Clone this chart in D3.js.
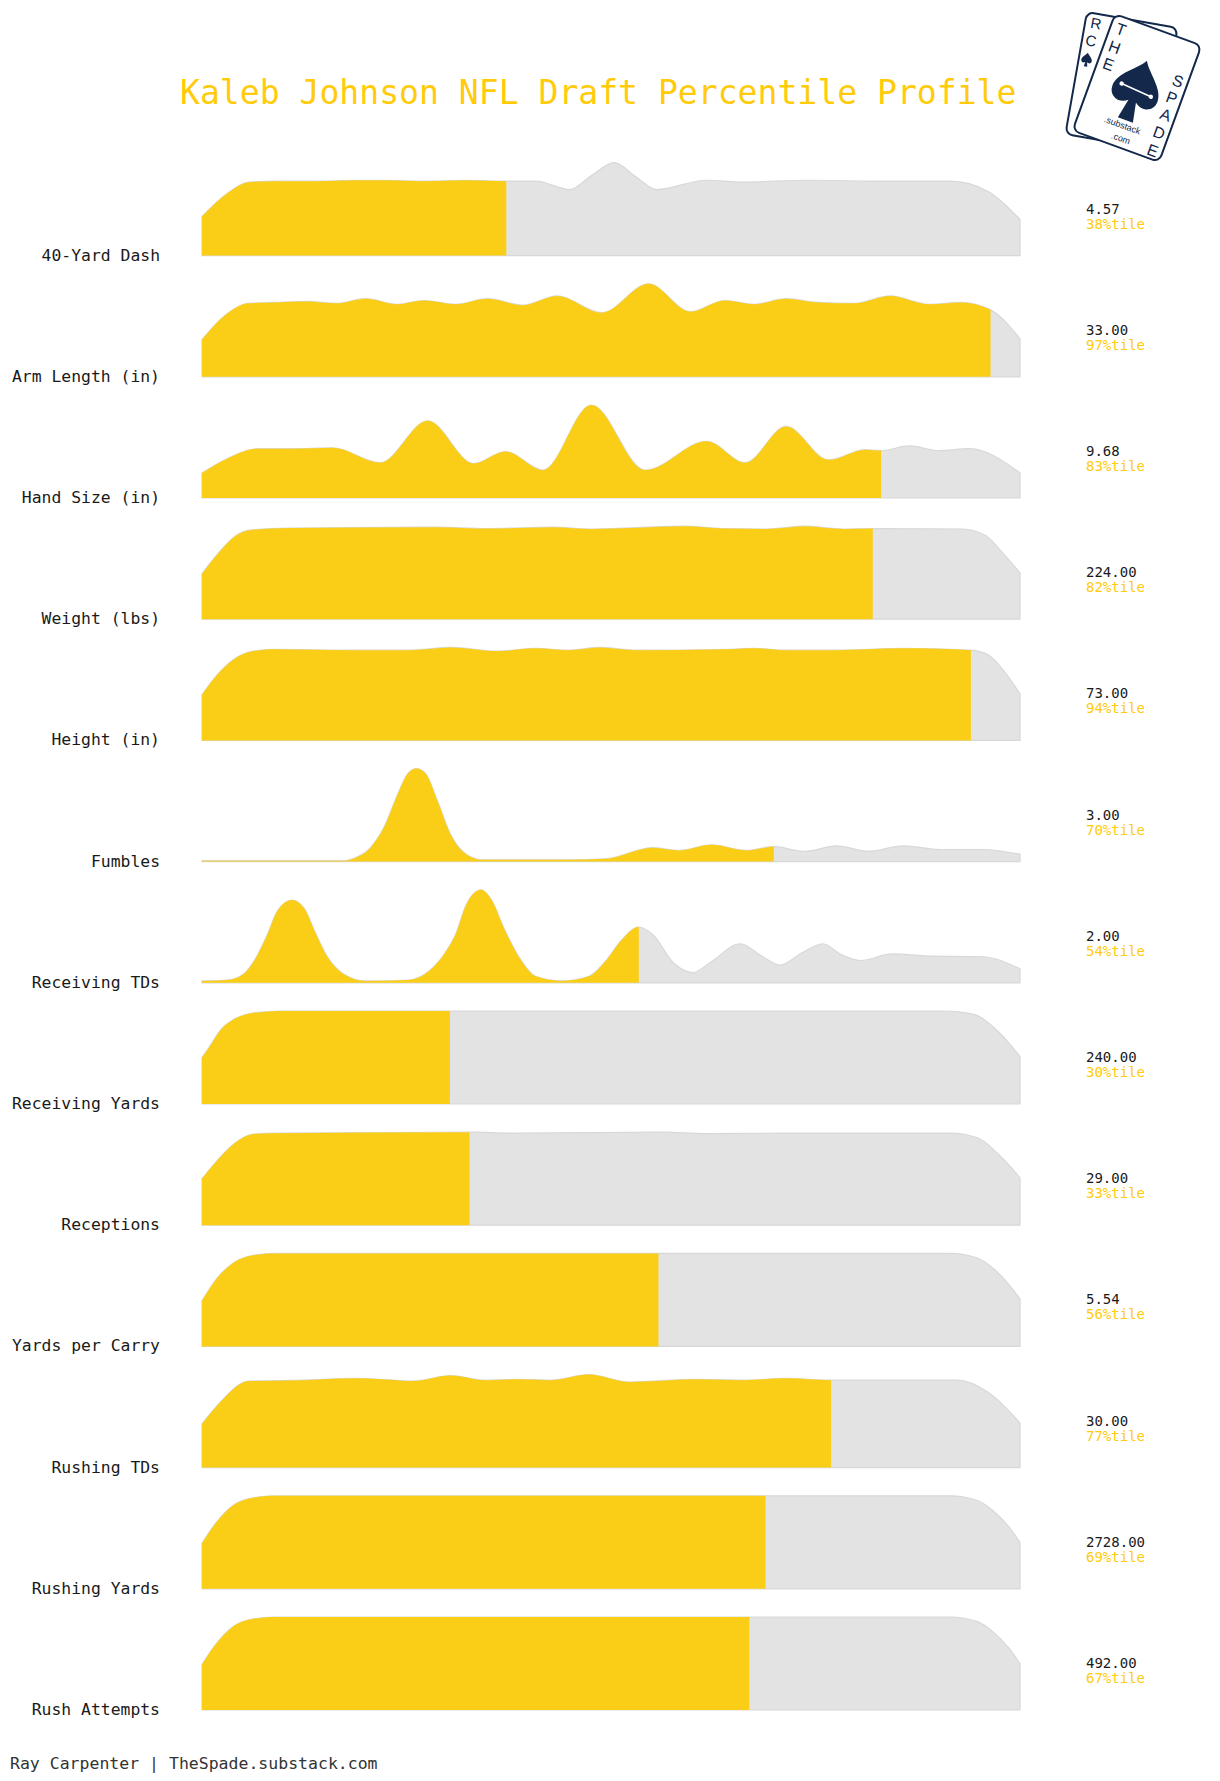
<!DOCTYPE html>
<html>
<head>
<meta charset="utf-8">
<script src="https://cdn.jsdelivr.net/npm/d3@7"></script>
<style>
  html, body { margin: 0; padding: 0; background: #ffffff; }
  svg { display: block; }
</style>
</head>
<body>
<svg id="chart" width="1220" height="1781"></svg>
<script>
// ---------------- DATA ----------------
const titleText = "Kaleb Johnson NFL Draft Percentile Profile";
const footerText = "Ray Carpenter | TheSpade.substack.com";

const metrics = [
  "40-Yard Dash", "Arm Length (in)", "Hand Size (in)", "Weight (lbs)", "Height (in)",
  "Fumbles", "Receiving TDs", "Receiving Yards", "Receptions", "Yards per Carry",
  "Rushing TDs", "Rushing Yards", "Rush Attempts"
];
const playerValues = [4.57, 33.00, 9.68, 224.00, 73.00, 3.00, 2.00, 240.00, 29.00, 5.54, 30.00, 2728.00, 492.00];
const percentiles  = [38, 97, 83, 82, 94, 70, 54, 30, 33, 56, 77, 69, 67];
// where the yellow fill stops (percentile axis position)
const fillAt       = [37.2, 96.4, 83.0, 82.0, 94.0, 69.9, 53.4, 30.3, 32.7, 55.8, 76.9, 68.9, 66.9];

// density profiles: [percentile, relative density]
const densDash = [[0,0.42],[3.1,0.67],[5.7,0.79],[8.9,0.80],[14.1,0.80],[18.7,0.81],[22.6,0.81],[27.1,0.80],[32.3,0.81],[37.2,0.80],[40.8,0.80],[45.0,0.71],[47.6,0.86],[50.4,1.0],[53.0,0.85],[55.6,0.71],[61.6,0.81],[66.2,0.79],[74.0,0.81],[83.7,0.80],[91.5,0.80],[96.1,0.69],[100,0.39]];
const densArm = [[0,0.40],[3.1,0.68],[5.7,0.79],[8.9,0.80],[12.8,0.81],[16.4,0.79],[20.0,0.84],[23.9,0.78],[27.1,0.82],[31.0,0.78],[34.9,0.84],[39.2,0.77],[43.4,0.87],[48.9,0.69],[54.6,1.0],[59.7,0.70],[63.9,0.82],[67.5,0.78],[71.4,0.84],[75.3,0.80],[79.8,0.79],[84.1,0.87],[88.9,0.78],[92.8,0.80],[96.4,0.72],[100,0.41]];
const densHand = [[0,0.27],[3.0,0.42],[6.7,0.53],[11,0.53],[16,0.54],[21.8,0.38],[27.6,0.83],[33.2,0.37],[37.1,0.50],[41.7,0.30],[47.6,1.0],[54.2,0.30],[61.7,0.61],[66.4,0.38],[71.4,0.77],[76.6,0.41],[81.1,0.52],[83,0.51],[86.5,0.56],[90.1,0.51],[93.8,0.53],[100,0.27]];
const densWeight = [[0,0.49],[2.0,0.71],[4.0,0.89],[6.0,0.96],[10.7,0.98],[28.8,0.99],[34.9,0.975],[42.9,0.99],[47.6,0.97],[59.0,1.0],[63.7,0.975],[69.0,0.97],[73.7,1.0],[78.4,0.97],[82.0,0.975],[93.0,0.97],[95.8,0.90],[97.9,0.71],[100,0.50]];
const densHeight = [[0,0.49],[1.8,0.70],[3.7,0.86],[6.3,0.96],[8.9,0.98],[18.7,0.97],[25.2,0.97],[30.4,1.0],[36.2,0.96],[40.8,0.99],[44.7,0.97],[48.6,1.0],[53.2,0.97],[64.2,0.98],[67.5,0.99],[71.4,0.97],[77.2,0.97],[85.7,0.99],[94.0,0.97],[96.1,0.92],[98.0,0.75],[100,0.50]];
const densFumbles = [[0,0.01],[17.4,0.01],[18.7,0.04],[20.6,0.15],[22.2,0.36],[23.9,0.72],[25.2,0.95],[26.2,1.0],[27.3,0.95],[28.8,0.65],[30.4,0.29],[32.3,0.08],[34.3,0.02],[44.7,0.02],[49.3,0.03],[55.1,0.15],[58.4,0.12],[62.3,0.18],[66.5,0.12],[69.9,0.16],[73.7,0.11],[77.6,0.17],[81.5,0.11],[85.7,0.17],[90.2,0.13],[95.4,0.13],[100,0.08]];
const densRecTD = [[0,0.02],[3.1,0.03],[5.0,0.09],[6.6,0.27],[7.9,0.50],[9.2,0.77],[11.0,0.89],[12.5,0.80],[13.8,0.55],[15.4,0.27],[17.4,0.09],[20.0,0.02],[25.2,0.03],[27.8,0.13],[29.7,0.32],[31.0,0.52],[32.3,0.84],[34.1,1.0],[35.4,0.89],[36.9,0.59],[38.8,0.27],[40.8,0.07],[44.0,0.02],[47.3,0.07],[49.3,0.23],[51.2,0.45],[53.4,0.60],[55.1,0.52],[57.7,0.21],[60.0,0.11],[62.3,0.23],[65.8,0.42],[68.4,0.29],[70.7,0.19],[73.3,0.32],[75.9,0.42],[78.2,0.30],[80.5,0.24],[84.4,0.31],[88.3,0.29],[95.4,0.28],[100,0.15]];
const densRecYds = [[0,0.50],[0.8,0.60],[2.4,0.81],[3.7,0.90],[5.7,0.97],[7.6,0.99],[9.5,1.0],[50,1.0],[90.5,1.0],[92.5,0.99],[94.8,0.95],[96.7,0.83],[98.7,0.65],[100,0.51]];
const densReceptions = [[0,0.50],[1.8,0.69],[3.7,0.86],[6.3,0.98],[8.9,0.99],[32.7,1.0],[38.2,0.99],[56.4,1.0],[61.6,0.985],[71.0,0.99],[91.5,0.99],[94.8,0.94],[97.4,0.76],[100,0.51]];
const densYPC = [[0,0.49],[1.8,0.73],[3.7,0.89],[6.3,0.98],[8.9,1.0],[50,1.0],[91.5,1.0],[94.8,0.95],[96.7,0.84],[98.7,0.66],[100,0.51]];
const densRushTD = [[0,0.47],[2.4,0.72],[5.7,0.93],[12.2,0.94],[18.7,0.96],[21.9,0.95],[25.8,0.93],[30.4,0.99],[34.6,0.94],[38.8,0.95],[42.7,0.94],[47.3,1.0],[52.2,0.92],[60.3,0.95],[66.2,0.94],[71.4,0.96],[76.9,0.94],[83.7,0.94],[92.2,0.94],[96.1,0.81],[100,0.48]];
const densRushYds = [[0,0.49],[1.8,0.72],[3.7,0.89],[6.3,0.98],[8.9,1.0],[50,1.0],[91.5,1.0],[94.8,0.95],[96.7,0.84],[98.7,0.66],[100,0.50]];
const densRushAtt = [[0,0.49],[1.8,0.72],[3.7,0.89],[6.3,0.98],[8.9,1.0],[50,1.0],[91.5,1.0],[94.8,0.95],[96.7,0.84],[98.7,0.66],[100,0.50]];

const densities = [densDash, densArm, densHand, densWeight, densHeight, densFumbles, densRecTD,
                   densRecYds, densReceptions, densYPC, densRushTD, densRushYds, densRushAtt];

// ---------------- STYLE / LAYOUT ----------------
const YELLOW = "#FACE16";
const TITLE_YELLOW = "#FFCB0B";
const GREY = "#E3E3E3";
const GREY_STROKE = "#D8D8D8";
const NAVY = "#13284A";
const MONO = "'DejaVu Sans Mono', 'Liberation Mono', monospace";

const firstBaseline = 255.6, rowStep = 121.2, ridgeHeight = 93;

const svg = d3.select("#chart");

const x = d3.scaleLinear().domain([0, 100]).range([202, 1020]);
const rowBase = d3.scaleLinear().domain([0, 1]).range([firstBaseline, firstBaseline + rowStep]);

// title
svg.append("text")
  .attr("x", 180).attr("y", 104)
  .attr("font-family", MONO).attr("font-size", 33.1)
  .attr("fill", TITLE_YELLOW)
  .text(titleText);

const defs = svg.append("defs");

metrics.forEach((name, i) => {
  const B = rowBase(i);
  const y = d3.scaleLinear().domain([0, 1]).range([B, B - ridgeHeight]);
  const area = d3.area()
    .x(d => x(d[0]))
    .y0(B)
    .y1(d => y(d[1]))
    .curve(d3.curveMonotoneX);

  const g = svg.append("g").attr("class", "ridge");

  g.append("path")
    .datum(densities[i])
    .attr("d", area)
    .attr("fill", GREY)
    .attr("stroke", GREY_STROKE)
    .attr("stroke-width", 1.2);

  const clipId = "clip" + i;
  defs.append("clipPath").attr("id", clipId)
    .append("rect")
    .attr("x", x(0)).attr("y", B - ridgeHeight - 5)
    .attr("width", x(fillAt[i]) - x(0))
    .attr("height", ridgeHeight + 6);

  g.append("path")
    .datum(densities[i])
    .attr("d", area)
    .attr("fill", YELLOW)
    .attr("clip-path", `url(#${clipId})`);

  // metric label
  svg.append("text")
    .attr("x", 160).attr("y", B + 5)
    .attr("text-anchor", "end")
    .attr("font-family", MONO).attr("font-size", 16.4)
    .attr("fill", "#1a1a1a")
    .text(name);

  // value + percentile
  svg.append("text")
    .attr("x", 1086).attr("y", B - 42)
    .attr("font-family", MONO).attr("font-size", 14)
    .attr("fill", "#1a1a1a")
    .text(d3.format(".2f")(playerValues[i]));
  svg.append("text")
    .attr("x", 1086).attr("y", B - 27)
    .attr("font-family", MONO).attr("font-size", 14)
    .attr("fill", TITLE_YELLOW)
    .text(percentiles[i] + "%tile");
});

// footer
svg.append("text")
  .attr("x", 10).attr("y", 1769)
  .attr("font-family", MONO).attr("font-size", 16.5)
  .attr("fill", "#333")
  .text(footerText);

// ---------------- LOGO ----------------
const spadePath = "M0,-27 C6,-16 24,-6 24,8 C24,19 12,23 4,16 L8,36 L-8,36 L-4,16 C-12,23 -24,19 -24,8 C-24,-6 -6,-16 0,-27 Z";
const logo = svg.append("g").attr("class", "logo");
const SANS = "'Liberation Sans', Arial, sans-serif";

const back = logo.append("g").attr("transform", "translate(1121.5,81) rotate(10)");
back.append("rect").attr("x", -46).attr("y", -62).attr("width", 92).attr("height", 124).attr("rx", 7)
  .attr("fill", "#fff").attr("stroke", NAVY).attr("stroke-width", 2);
back.append("text").attr("x", -35).attr("y", -47).attr("font-family", SANS).attr("font-size", 15)
  .attr("text-anchor", "middle").attr("fill", NAVY).text("R");
back.append("text").attr("x", -37).attr("y", -29).attr("font-family", SANS).attr("font-size", 15)
  .attr("text-anchor", "middle").attr("fill", NAVY).text("C");
back.append("path").attr("d", spadePath).attr("fill", NAVY)
  .attr("transform", "translate(-38,-16) scale(0.22)");

const front = logo.append("g").attr("transform", "translate(1137,88) rotate(20)");
front.append("rect").attr("x", -46).attr("y", -62).attr("width", 92).attr("height", 124).attr("rx", 7)
  .attr("fill", "#fff").attr("stroke", NAVY).attr("stroke-width", 2);
[["T", -50], ["H", -31], ["E", -13]].forEach(([l, yy]) => {
  front.append("text").attr("x", -35).attr("y", yy + 6).attr("font-family", SANS).attr("font-size", 16)
    .attr("text-anchor", "middle").attr("fill", NAVY).text(l);
});
[["S", -21], ["P", -3], ["A", 15], ["D", 34], ["E", 53]].forEach(([l, yy]) => {
  front.append("text").attr("x", 36).attr("y", yy + 6).attr("font-family", SANS).attr("font-size", 16)
    .attr("text-anchor", "middle").attr("fill", NAVY).text(l);
});
front.append("path").attr("d", spadePath).attr("fill", NAVY).attr("transform", "translate(0,-2)");
front.append("line").attr("x1", -16).attr("y1", 1).attr("x2", 16).attr("y2", 3.5)
  .attr("stroke", "#fff").attr("stroke-width", 1.5);
front.append("circle").attr("cx", -16).attr("cy", 1).attr("r", 2.2).attr("fill", "#fff");
front.append("circle").attr("cx", 16).attr("cy", 3.5).attr("r", 2.2).attr("fill", "#fff");
front.append("text").attr("x", -1).attr("y", 43).attr("font-family", SANS).attr("font-size", 9)
  .attr("text-anchor", "middle").attr("fill", NAVY).text(".substack");
front.append("text").attr("x", 2).attr("y", 56).attr("font-family", SANS).attr("font-size", 9)
  .attr("text-anchor", "middle").attr("fill", NAVY).text(".com");
</script>
</body>
</html>
